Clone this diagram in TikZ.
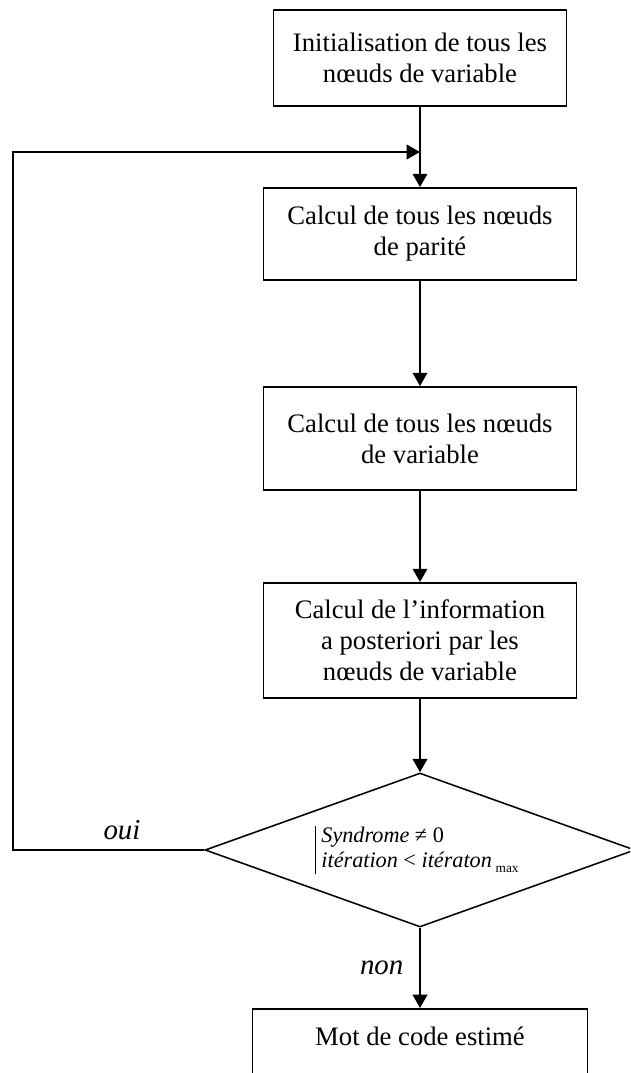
\documentclass[tikz,border=0pt]{standalone}
\usepackage{fontspec}
\setmainfont{Liberation Serif}
\usetikzlibrary{positioning,arrows.meta,shapes.geometric}

\begin{document}
\begin{tikzpicture}[x=0.45pt,y=-0.45pt,font=\fontsize{12}{14}\selectfont,
  box/.style={draw,line width=0.8pt,align=center,inner sep=2pt,
              minimum width=140.85pt,minimum height=41.4pt},
  dec/.style={diamond,draw,line width=0.7pt,inner sep=0pt,aspect=2.8,
              minimum width=193.5pt,minimum height=69.3pt},
  ar/.style={-{Triangle[length=6pt,width=6.5pt]},line width=1pt},
  lbl/.style={font=\fontsize{13}{15}\selectfont\itshape,inner sep=2pt}]

\useasboundingbox (0,0) rectangle (630,1073);
\clip (0,0) rectangle (630,1073);

\node[box,minimum width=131.85pt,minimum height=43.2pt] (init) at (420,58)
  {Initialisation de tous les\\nœuds de variable};
\node[box] (parite) at (420,234)
  {Calcul de tous les nœuds\\de parité};
\node[box,minimum height=46.35pt] (var) at (420,438.5)
  {Calcul de tous les nœuds\\de variable};
\node[box,minimum height=51.75pt] (apost) at (420,640.5)
  {Calcul de l’information\\a posteriori par les\\nœuds de variable};
\node[dec] (test) at (420,850)
  {\fontsize{10}{11}\selectfont\setlength\tabcolsep{2.5pt}%
   \begin{tabular}{|l}
   \textit{Syndrome} ≠ 0\\
   \textit{itération} < \textit{itératon}\,\raisebox{-0.5ex}{\fontsize{6}{6}\selectfont max}
   \end{tabular}};
\node[box,anchor=north,minimum width=150.75pt,inner ysep=8pt,text depth=30pt]
  (code) at (420,1008) {Mot de code estimé};

\coordinate (join) at (420,152);
\coordinate (corner) at (13,850);

\draw[ar] (init) -- (parite);
\draw[ar] (parite) -- (var);
\draw[ar] (var) -- (apost);
\draw[ar] (apost) -- (test);
\draw[ar] (test) -- node[lbl,left=5pt] {non} (code);
\draw[ar] (test.west) -- node[lbl,above=2pt,pos=0.43] {oui} (corner) |- (join);
\end{tikzpicture}
\end{document}
